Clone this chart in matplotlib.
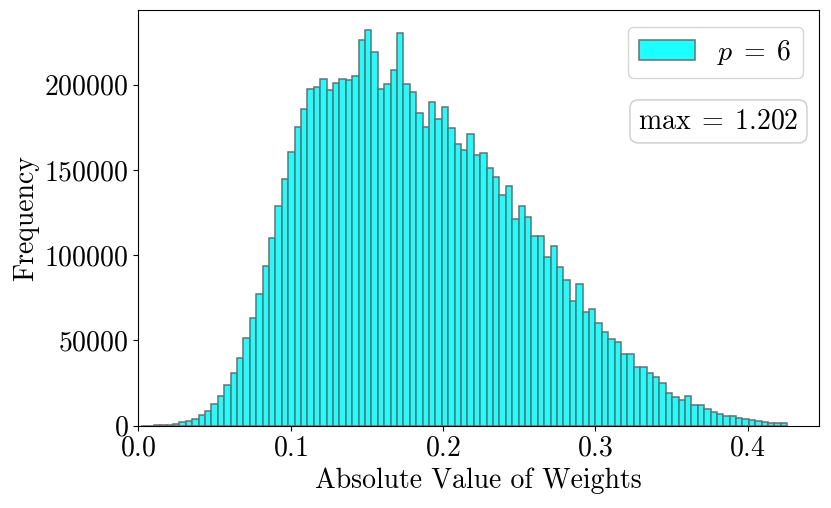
import numpy as np
import matplotlib
matplotlib.use('Agg')
import matplotlib.pyplot as plt

# histogram bins (101 bins of width ~0.0042 starting just above zero)
bin_lo = 0.0018
bin_hi = 0.4260
n_bins = 101

counts = [
    30, 80, 150, 300, 600, 1200, 2000, 2800, 4000, 6000,
    8700, 12500, 17500, 23700, 30700, 39500, 51700, 63000, 77300, 93900,
    109800, 128600, 144800, 160300, 175200, 185900, 197500, 198400, 203100, 197100,
    201000, 203500, 202700, 204900, 226000, 232100, 218800, 197300, 200600, 208800,
    230000, 200200, 195700, 183400, 175000, 190000, 179600, 187100, 174600, 165000,
    161800, 171200, 158900, 159900, 150900, 145600, 135400, 140700, 121300, 128800,
    122300, 111000, 111500, 98800, 105300, 93000, 85500, 73400, 82800, 66500,
    68500, 60300, 55200, 50900, 48900, 41900, 41900, 34200, 34200, 30700,
    28600, 24900, 19000, 17000, 15100, 17200, 12000, 12300, 9800, 8000,
    6900, 5900, 5600, 4300, 3700, 3200, 2900, 2000, 1800, 1400,
    1300,
]
p_value = 6
max_weight = 1.202

edges = np.linspace(bin_lo, bin_hi, n_bins + 1)
centers = (edges[:-1] + edges[1:]) / 2

plt.rcParams.update({
    'font.family': 'serif',
    'font.serif': ['cmr10'],
    'mathtext.fontset': 'cm',
    'axes.formatter.use_mathtext': True,
    'axes.unicode_minus': False,
    'font.size': 20,
})

fig = plt.figure(figsize=(8.31, 5.08), dpi=100)
fig.subplots_adjust(left=0.1664, right=0.9859, bottom=0.162, top=0.9803)
ax = fig.gca()

ax.hist(centers, bins=edges, weights=counts, facecolor='#1affff',
        edgecolor='#6e6e6e', linewidth=1.1, label=r'$p \;=\; %d$' % p_value)

ax.set_xlim(0, 0.447)
ax.set_xticks([0.0, 0.1, 0.2, 0.3, 0.4])
ax.set_yticks([0, 50000, 100000, 150000, 200000])
ax.set_xlabel('Absolute Value of Weights')
ax.set_ylabel('Frequency')

ax.legend(loc='upper right', fontsize=20, borderaxespad=0.6)
ax.text(0.9697, 0.732, r'$\max \;=\; %.3f$' % max_weight, transform=ax.transAxes,
        ha='right', va='center', fontsize=20,
        bbox=dict(boxstyle='round,pad=0.3', facecolor='white', edgecolor='0.8'))

fig.savefig('out.png', dpi=100)
